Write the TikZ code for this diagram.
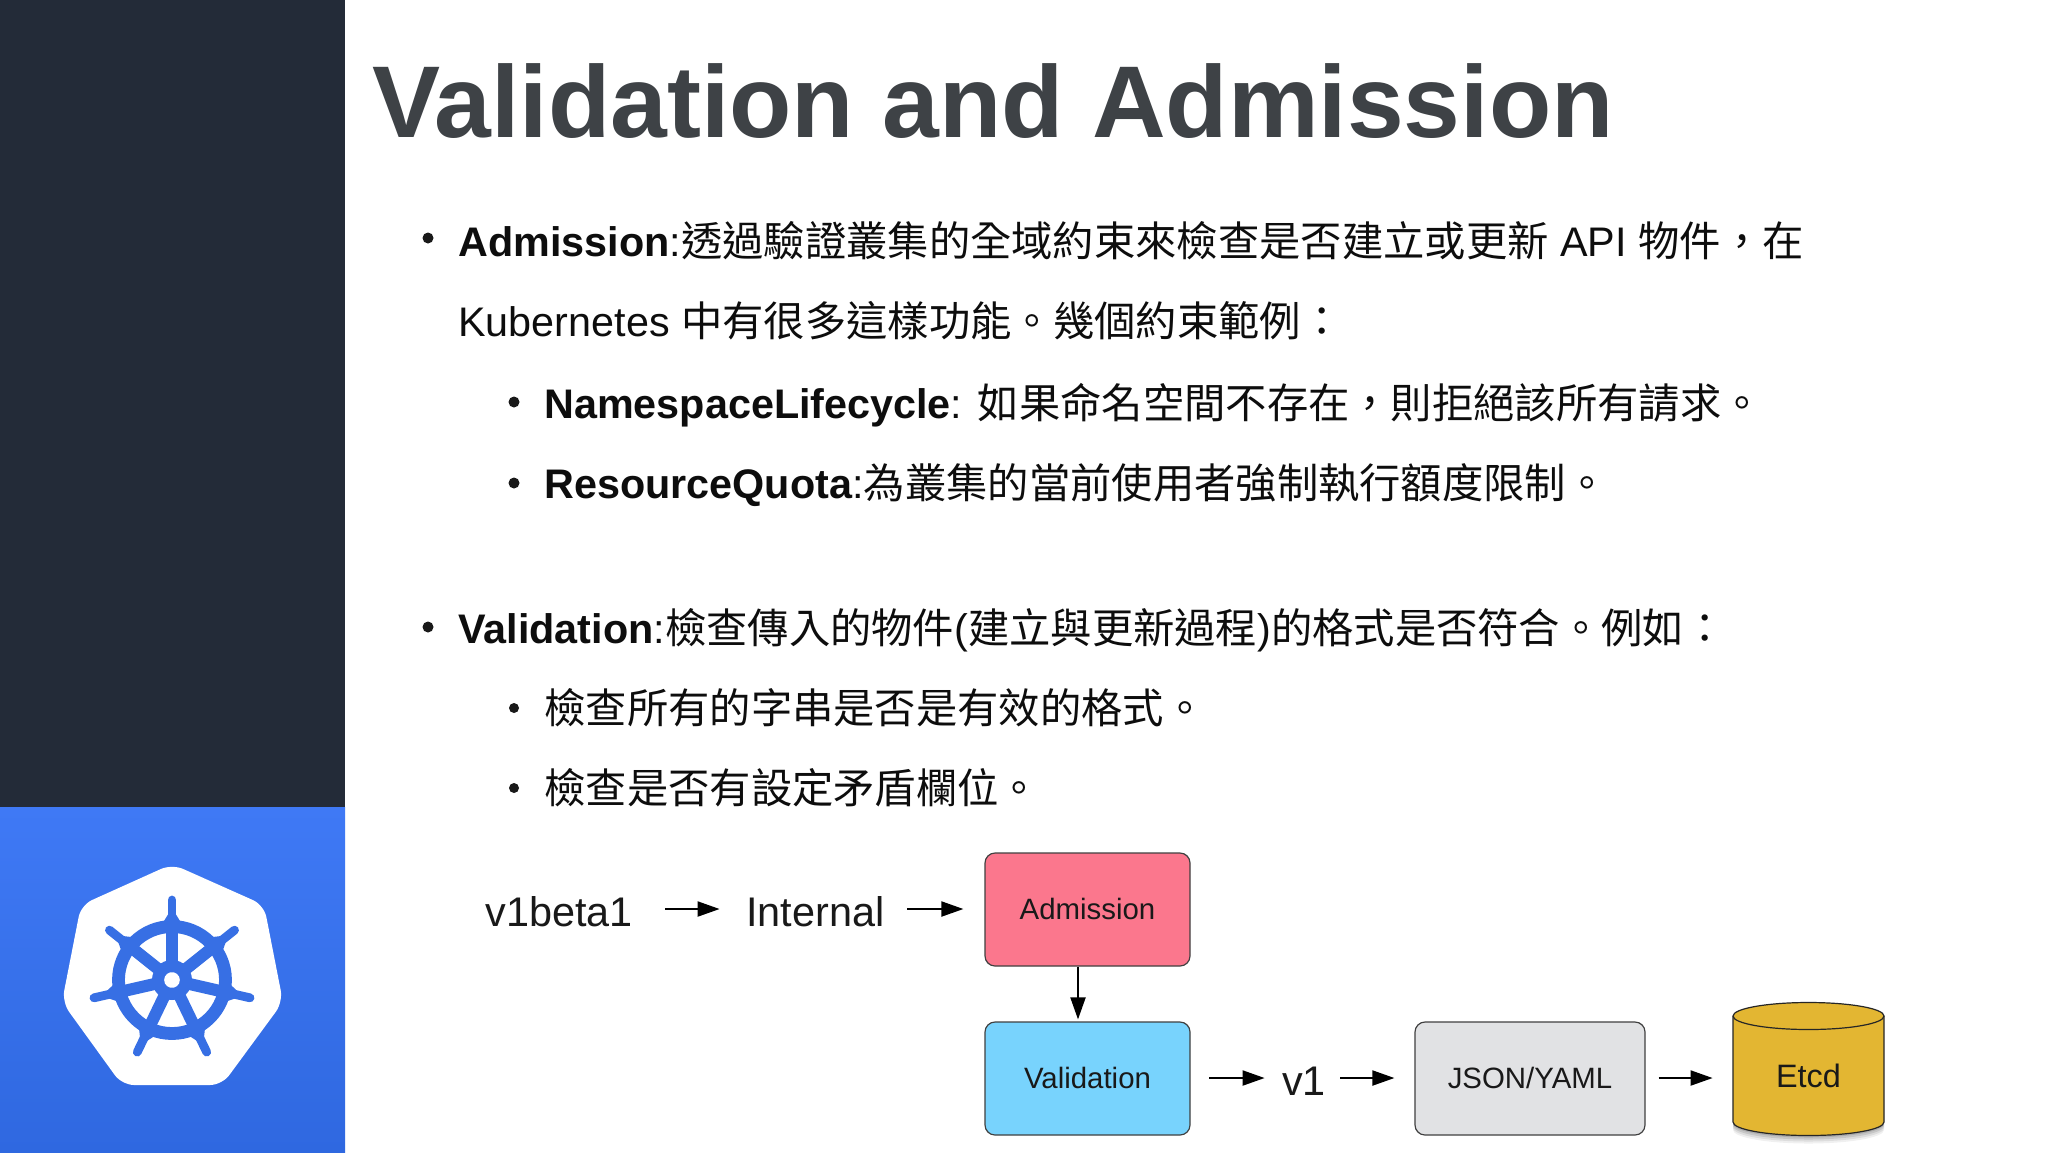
\documentclass[tikz,border=0pt]{standalone}
\usepackage{fontspec}
\setmainfont{Liberation Sans}
\newfontfamily\cjk{Noto Sans CJK TC}
\usetikzlibrary{arrows.meta}
\definecolor{sidedark}{HTML}{232B38}
\definecolor{bluetop}{HTML}{3F79F5}
\definecolor{bluebot}{HTML}{2F68E0}
\definecolor{wheelblue}{HTML}{376FE4}
\definecolor{titlegrey}{HTML}{3E4246}
\definecolor{pinkbox}{HTML}{FB778D}
\definecolor{bluebox}{HTML}{78D3FD}
\definecolor{greybox}{HTML}{E1E2E4}
\definecolor{goldbox}{HTML}{E3B632}
\newcommand{\C}[1]{{\cjk\mdseries #1}}
\tikzset{
  bodytext/.style={anchor=base west,inner sep=0pt,font=\fontsize{20.66pt}{24pt}\selectfont,text=black!95},
  dot/.style={circle,fill=black!90,inner sep=0pt,minimum size=#1},
  flowlabel/.style={inner sep=0pt,font=\fontsize{20.7pt}{24pt}\selectfont,text height=17pt,text depth=0pt,text=black!90},
  flowbox/.style={draw=black!75,line width=.6pt,rounded corners=5pt,inner sep=0pt,minimum width=102.5pt,minimum height=56.5pt,
     font=\fontsize{14.7pt}{18pt}\selectfont,text height=9.5pt,text depth=0pt,text=black!90},
  arr/.style={-{Triangle[length=11pt,width=7.5pt]},line width=1pt,black}
}
\begin{document}
\begin{tikzpicture}[x=0.5pt,y=-0.5pt]
\useasboundingbox (0,0) rectangle (2048,1152);
\fill[white] (0,0) rectangle (2048,1152);
\fill[sidedark] (0,0) rectangle (345,808);
\shade[top color=bluetop,bottom color=bluebot] (0,807) rectangle (345,1152);
% logo
\fill[white,rounded corners=6pt] (172,864) -- (264,905) -- (283,1002) -- (222,1085) -- (122,1085) -- (62,1002) -- (81,905) -- cycle;
\begin{scope}[shift={(172,980)},y=0.5pt]
  \draw[wheelblue,line width=6.4pt] (0,0) circle[radius=53.5];
  \foreach \a in {90,141.43,192.86,244.29,295.71,347.14,398.57}{
    \draw[wheelblue,line width=6pt] (0,0) -- (\a:56);
    \draw[wheelblue,line width=4.4pt,line cap=round] (\a:58) -- (\a:80);
    \fill[wheelblue] (\a-9:58) -- (\a:72) -- (\a+9:58) -- cycle;
  }
  \fill[wheelblue] (0,0) circle[radius=20];
  \fill[white,rounded corners=1pt] (90:8.5) -- (141.43:8.5) -- (192.86:8.5) -- (244.29:8.5) -- (295.71:8.5) -- (347.14:8.5) -- (398.57:8.5) -- cycle;
\end{scope}
% title
\node[anchor=base west,inner sep=0pt,text=titlegrey,font=\fontsize{51pt}{56pt}\selectfont\bfseries] (title) at (372,137) {Validation and Admission};
% body
\node[dot=5.5pt] (b1) at (428,238) {};
\node[bodytext] (l1) at (458,256) {\textbf{Admission}:\C{透過驗證叢集的全域約束來檢查是否建立或更新} API \C{物件，在}};
\node[bodytext] (l2) at (458,336) {Kubernetes \C{中有很多這樣功能。幾個約束範例：}};
\node[dot=5.5pt] (b2) at (514,402) {};
\node[bodytext] (l3) at (544,418) {\textbf{NamespaceLifecycle}: \C{如果命名空間不存在，則拒絕該所有請求。}};
\node[dot=5.5pt] (b3) at (514,483) {};
\node[bodytext] (l4) at (544,498) {\textbf{ResourceQuota}:\C{為叢集的當前使用者強制執行額度限制。}};
\node[dot=5.5pt] (b4) at (428,627) {};
\node[bodytext] (l5) at (458,643) {\textbf{Validation}:\C{檢查傳入的物件}(\C{建立與更新過程})\C{的格式是否符合。例如：}};
\node[dot=5pt] (b5) at (514,708) {};
\node[bodytext] (l6) at (544,723) {\C{檢查所有的字串是否是有效的格式。}};
\node[dot=5pt] (b6) at (514,788) {};
\node[bodytext] (l7) at (544,803) {\C{檢查是否有設定矛盾欄位。}};
% flow labels
\node[flowlabel,minimum width=80pt] (v1b) at (559,909) {v1beta1};
\node[flowlabel,minimum width=72pt] (intl) at (815.5,909) {Internal};
\node[flowlabel,minimum width=22pt,text height=17pt] (v1) at (1304,1078) {v1};
\node[flowbox,fill=pinkbox] (adm) at (1087.5,909.5) {Admission};
\node[flowbox,fill=bluebox] (val) at (1087.5,1078.5) {Validation};
\node[flowbox,fill=greybox,minimum width=115pt] (json) at (1530,1078.5) {JSON/YAML};
% cylinder
\foreach \o/\op in {8/.06,6/.08,4/.10,2/.12}{
  \fill[black,opacity=\op] (1733,1100) -- (1884,1100) -- (1884,1122+\o) arc[start angle=0,end angle=-180,x radius=37.75pt,y radius=6.75pt] -- cycle;
}
\filldraw[fill=goldbox,draw=black!85,line width=.6pt] (1733,1016) -- (1733,1122) arc[start angle=180,end angle=360,x radius=37.75pt,y radius=6.75pt] -- (1884,1016) arc[start angle=0,end angle=180,x radius=37.75pt,y radius=6.75pt] -- cycle;
\draw[black!85,line width=.6pt] (1733,1016) arc[start angle=180,end angle=360,x radius=37.75pt,y radius=6.75pt];
\node[inner sep=0pt,minimum width=75.5pt,minimum height=57pt,font=\fontsize{16.2pt}{20pt}\selectfont,text height=9pt,text depth=0pt,text=black!90] (etcd) at (1808.5,1078) {Etcd};
% connectors
\draw[arr,shorten <=13pt,shorten >=11.75pt] (v1b.east) -- (intl.west);
\draw[arr,shorten <=9.75pt,shorten >=10.5pt] (intl.east) -- (adm.west|-intl.east);
\draw[arr,shorten >=1pt] ([xshift=-4.75pt]adm.south) -- ([xshift=-4.75pt]val.north);
\draw[arr,shorten <=9.25pt,shorten >=8.5pt] (val.east|-v1.west) -- (v1.west);
\draw[arr,shorten <=7pt,shorten >=10pt] (v1.east) -- (json.west|-v1.east);
\draw[arr,shorten <=6.5pt,shorten >=10pt] (json.east|-etcd.west) -- (etcd.west);
\end{tikzpicture}
\end{document}
